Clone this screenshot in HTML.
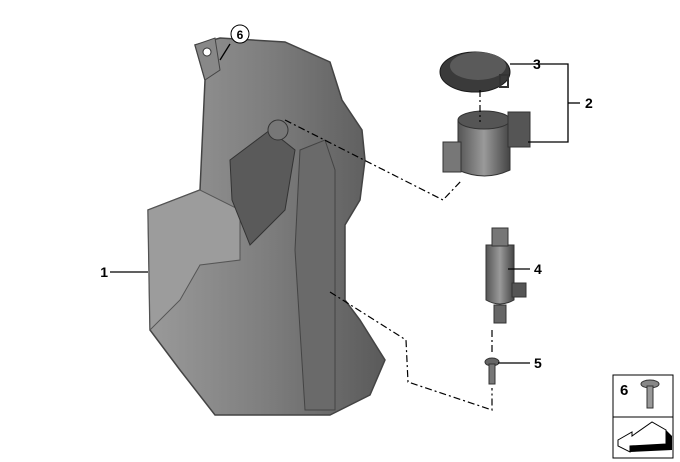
<!DOCTYPE html>
<html><head><style>
html,body{margin:0;padding:0;background:#fff;}
svg{display:block;font-family:"Liberation Sans",sans-serif;}
</style></head><body>
<svg width="680" height="462" viewBox="0 0 680 462">
<defs>
<linearGradient id="g1" x1="0" y1="0" x2="1" y2="0">
<stop offset="0" stop-color="#9a9a9a"/><stop offset="0.5" stop-color="#7e7e7e"/><stop offset="1" stop-color="#5a5a5a"/>
</linearGradient>
<linearGradient id="g2" x1="0" y1="0" x2="1" y2="0">
<stop offset="0" stop-color="#555"/><stop offset="0.5" stop-color="#9a9a9a"/><stop offset="1" stop-color="#444"/>
</linearGradient>
</defs>
<polygon points="195,45 220,38 285,42 330,62 342,100 362,130 365,160 360,200 345,225 345,300 360,320 385,360 370,395 330,415 215,415 180,370 150,330 148,210 200,190 205,80" fill="url(#g1)" stroke="#444" stroke-width="1.5"/>
<polygon points="148,210 200,190 240,210 240,260 200,265 180,300 150,330" fill="#9c9c9c" stroke="#555"/>
<polygon points="300,150 325,140 335,170 335,410 305,410 295,250" fill="#6a6a6a" stroke="#444"/>
<polygon points="230,160 270,130 295,150 285,210 250,245 232,200" fill="#5a5a5a" stroke="#333"/>
<polygon points="195,45 215,38 220,70 205,80" fill="#888" stroke="#444"/>
<circle cx="207" cy="52" r="4" fill="#fff" stroke="#333"/>
<circle cx="278" cy="130" r="10" fill="#777" stroke="#333"/>
<ellipse cx="475" cy="72" rx="35" ry="20" fill="#3a3a3a" stroke="#1a1a1a"/>
<ellipse cx="478" cy="66" rx="28" ry="14" fill="#5a5a5a"/>
<rect x="500" y="75" width="8" height="12" fill="none" stroke="#333" stroke-width="2"/>
<path d="M458,120 L458,170 Q485,182 510,170 L510,120 Z" fill="url(#g2)" stroke="#333"/>
<ellipse cx="484" cy="120" rx="26" ry="9" fill="#555" stroke="#333"/>
<rect x="508" y="112" width="22" height="35" fill="#555" stroke="#333"/>
<rect x="443" y="142" width="18" height="30" fill="#777" stroke="#333"/>
<path d="M486,245 L486,300 Q500,308 514,300 L514,245 Z" fill="url(#g2)" stroke="#333"/>
<rect x="492" y="228" width="16" height="18" fill="#777" stroke="#333"/>
<rect x="512" y="283" width="14" height="14" fill="#555" stroke="#333"/>
<rect x="494" y="305" width="12" height="18" fill="#666" stroke="#333"/>
<ellipse cx="492" cy="362" rx="7" ry="4" fill="#666" stroke="#333"/>
<rect x="489" y="364" width="6" height="20" fill="#777" stroke="#333"/>
<g fill="none" stroke="#000" stroke-width="1.2" stroke-dasharray="7,3,2,3">
<path d="M285,120 L443,200 L462,180"/>
<path d="M480,90 L480,122"/>
<path d="M330,292 L406,340 L408,382 L492,410 L492,388"/>
<path d="M492,330 L492,355"/>
</g>
<g stroke="#000" stroke-width="1.3" fill="none">
<line x1="110" y1="272" x2="148" y2="272"/>
<line x1="230" y1="44" x2="220" y2="60"/>
<path d="M510,64 L568,64 L568,142 L528,142"/>
<line x1="568" y1="103" x2="580" y2="103"/>
<line x1="508" y1="269" x2="530" y2="269"/>
<line x1="498" y1="363" x2="530" y2="363"/>
</g>
<g font-weight="bold" font-size="14" fill="#000">
<text x="108" y="277" text-anchor="end">1</text>
<text x="585" y="108">2</text>
<text x="533" y="69">3</text>
<text x="534" y="274">4</text>
<text x="534" y="368">5</text>
</g>
<circle cx="240" cy="34" r="9" fill="#fff" stroke="#000"/>
<text x="240" y="39" font-size="12" font-weight="bold" text-anchor="middle">6</text>
<rect x="613" y="375" width="60" height="83" fill="#fff" stroke="#000"/>
<line x1="613" y1="417" x2="673" y2="417" stroke="#000"/>
<text x="620" y="395" font-size="15" font-weight="bold">6</text>
<ellipse cx="650" cy="384" rx="9" ry="4" fill="#888" stroke="#333"/>
<rect x="647" y="386" width="6" height="22" fill="#999" stroke="#333"/>
<polygon points="618,440 632,432 632,436 652,422 666,430 666,444 630,446 630,452 618,446" fill="#fff" stroke="#000"/>
<polygon points="630,446 666,444 666,430 672,436 672,450 630,452" fill="#000"/>
</svg>
</body></html>
